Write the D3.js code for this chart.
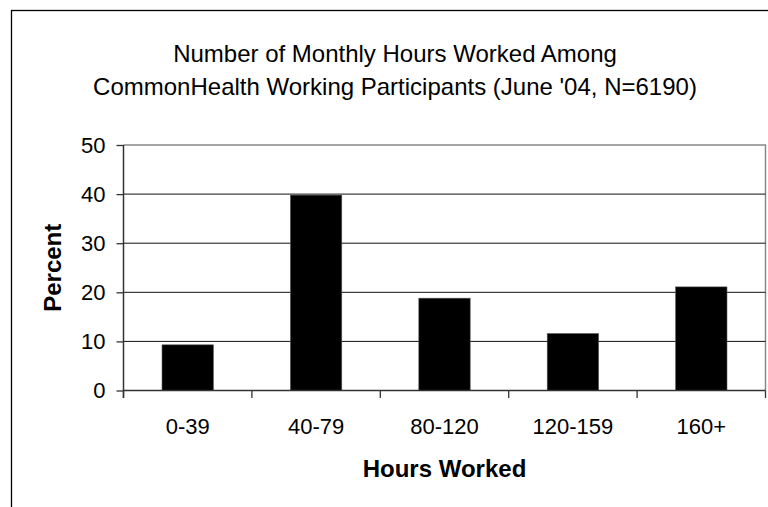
<!DOCTYPE html>
<html>
  <head>
    <meta charset="UTF-8">
    <title>Monthly Hours Worked</title>
    <style>
      * { margin: 0; padding: 0; overflow: hidden; }
      body { background: #fff; }
      text { font-family: "Liberation Sans", Arial, sans-serif; fill: #000; }
    </style>
    <script src="https://d3js.org/d3.v7.min.js"></script>
  </head>
  <body>
    <script type="text/javascript">
      // data
      const categories = ["0-39", "40-79", "80-120", "120-159", "160+"];
      const percents = [9.3, 39.8, 18.8, 11.6, 21.1];
      const yTicks = [0, 10, 20, 30, 40, 50];
      const titleLines = [
        "Number of Monthly Hours Worked Among",
        "CommonHealth Working Participants (June '04, N=6190)"
      ];

      const WIDTH = 768;
      const HEIGHT = 507;
      const plot = { left: 123.5, right: 765.5, top: 145, bottom: 390.5 };

      const svg = d3.select("body")
        .append("svg")
        .attr("width", WIDTH)
        .attr("height", HEIGHT);

      // outer chart border (right and bottom edges are off the picture)
      svg.append("rect")
        .attr("x", 11.5)
        .attr("y", 10.5)
        .attr("width", 800)
        .attr("height", 600)
        .attr("fill", "none")
        .attr("stroke", "#000")
        .attr("stroke-width", 1.3);

      // title
      svg.append("g")
        .selectAll("text")
        .data(titleLines)
        .enter()
        .append("text")
        .attr("x", 395)
        .attr("y", (d, i) => 62 + i * 32.6)
        .attr("text-anchor", "middle")
        .attr("font-size", "24px")
        .text((d) => d);

      const x = d3.scaleBand()
        .domain(categories)
        .range([plot.left, plot.right])
        .paddingInner(0.6)
        .paddingOuter(0.3);

      const y = d3.scaleLinear()
        .domain([0, 50])
        .range([plot.bottom, plot.top]);

      // plot area border (top and right, grey)
      svg.append("path")
        .attr("d", `M${plot.left},${plot.top}H${plot.right}V${plot.bottom}`)
        .attr("fill", "none")
        .attr("stroke", "#888")
        .attr("stroke-width", 1.5);

      // gridlines
      svg.append("g")
        .selectAll("line")
        .data(yTicks.filter((d) => d > 0 && d < 50))
        .enter()
        .append("line")
        .attr("x1", plot.left)
        .attr("x2", plot.right)
        .attr("y1", (d) => y(d))
        .attr("y2", (d) => y(d))
        .attr("stroke", "#111")
        .attr("stroke-width", 1);

      // bars
      svg.append("g")
        .selectAll("rect")
        .data(percents)
        .enter()
        .append("rect")
        .attr("x", (d, i) => x(categories[i]))
        .attr("y", (d) => y(d))
        .attr("width", x.bandwidth())
        .attr("height", (d) => y(0) - y(d))
        .attr("fill", "#000")
        .attr("stroke", "#555")
        .attr("stroke-width", 0.6);

      // y axis
      const yAxis = svg.append("g")
        .attr("transform", `translate(${plot.left},0)`)
        .call(d3.axisLeft(y).tickValues(yTicks).tickSize(7).tickPadding(11));
      yAxis.select(".domain")
        .attr("d", `M0,${plot.top}V${plot.bottom + 7.5}`)
        .attr("stroke", "#333")
        .attr("stroke-width", 1.5);
      yAxis.selectAll(".tick line").attr("stroke", "#333").attr("stroke-width", 1.3);
      yAxis.selectAll(".tick text")
        .attr("font-size", "22px")
        .attr("font-family", "Liberation Sans, Arial, sans-serif")
        .attr("fill", "#000");

      // x axis baseline and category boundary ticks
      const boundaries = d3.range(categories.length + 1).map((i) => plot.left + i * x.step());
      svg.append("line")
        .attr("x1", plot.left)
        .attr("x2", plot.right)
        .attr("y1", plot.bottom)
        .attr("y2", plot.bottom)
        .attr("stroke", "#333")
        .attr("stroke-width", 1.5);
      svg.append("g")
        .selectAll("line")
        .data(boundaries)
        .enter()
        .append("line")
        .attr("x1", (d) => d)
        .attr("x2", (d) => d)
        .attr("y1", plot.bottom)
        .attr("y2", plot.bottom + 7.5)
        .attr("stroke", "#333")
        .attr("stroke-width", 1.3);

      // category labels
      svg.append("g")
        .selectAll("text")
        .data(categories)
        .enter()
        .append("text")
        .attr("x", (d) => x(d) + x.bandwidth() / 2)
        .attr("y", 434)
        .attr("text-anchor", "middle")
        .attr("font-size", "22px")
        .text((d) => d);

      // axis titles
      svg.append("text")
        .attr("x", (plot.left + plot.right) / 2)
        .attr("y", 477)
        .attr("text-anchor", "middle")
        .attr("font-size", "24px")
        .attr("font-weight", "bold")
        .text("Hours Worked");

      svg.append("text")
        .attr("transform", `translate(61,${(plot.top + plot.bottom) / 2}) rotate(-90)`)
        .attr("text-anchor", "middle")
        .attr("font-size", "24px")
        .attr("font-weight", "bold")
        .text("Percent");
    </script>
  </body>
</html>
